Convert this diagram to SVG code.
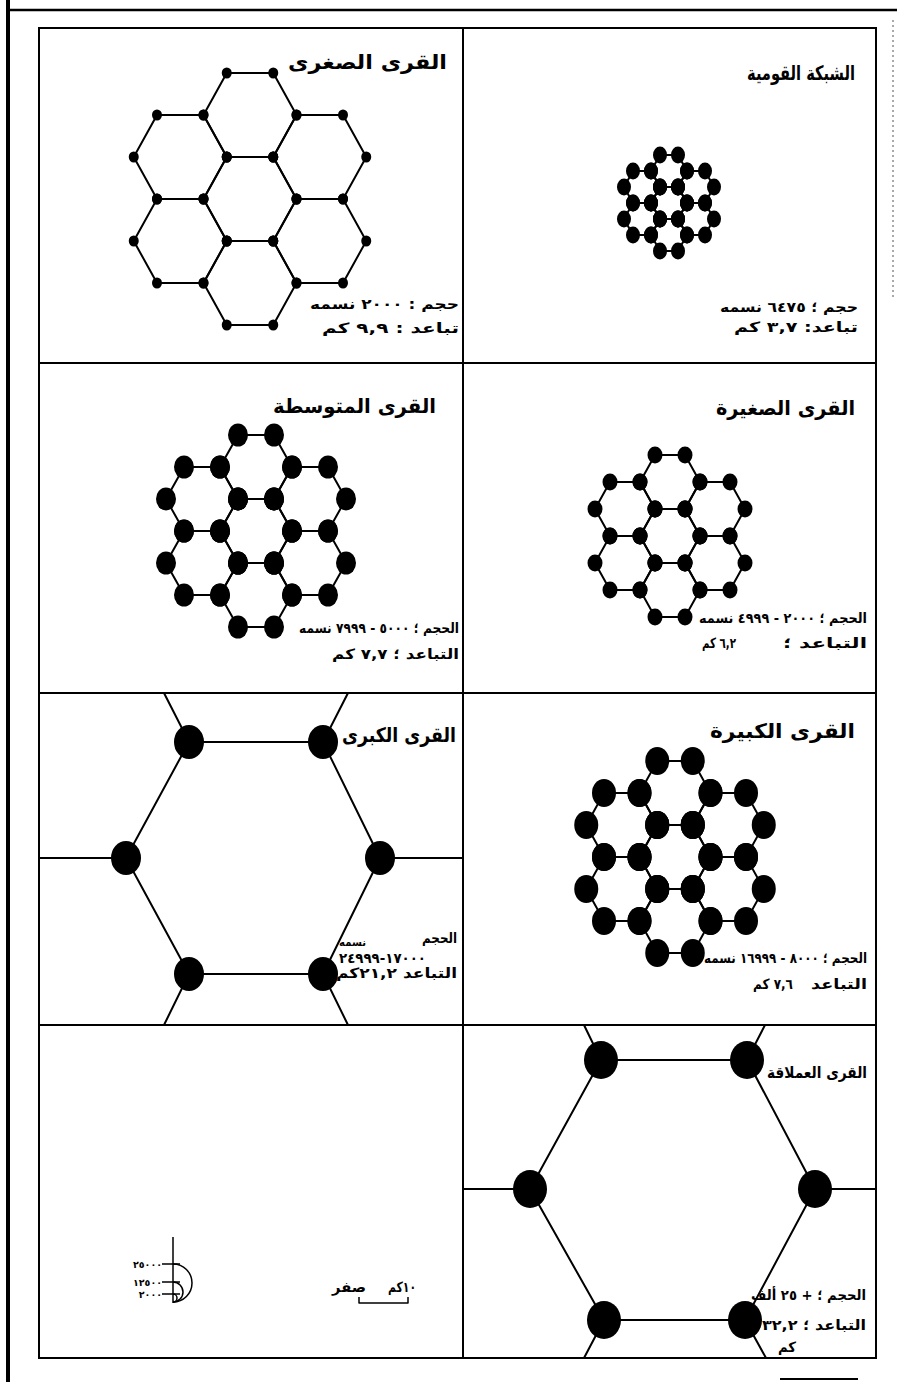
<svg xmlns="http://www.w3.org/2000/svg" width="897" height="1382" viewBox="0 0 897 1382">
<style>
.frame{fill:none;stroke:#000;stroke-width:2}
.net{fill:none;stroke:#000;stroke-width:2;stroke-linejoin:round}
.dot{fill:#000}
text{font-family:"DejaVu Sans",sans-serif;font-weight:bold;fill:#000;text-anchor:end}
.t{font-size:20px}
.i{font-size:14px}
.s{font-size:9.5px}
</style>
<defs>
<marker id="dA" markerUnits="userSpaceOnUse" markerWidth="1" markerHeight="1" refX="0" refY="0" orient="0" overflow="visible"><ellipse cx="0" cy="0" rx="5" ry="5.5"/></marker>
<marker id="dB" markerUnits="userSpaceOnUse" markerWidth="1" markerHeight="1" refX="0" refY="0" orient="0" overflow="visible"><ellipse cx="0" cy="0" rx="7" ry="8.5"/></marker>
<marker id="dC" markerUnits="userSpaceOnUse" markerWidth="1" markerHeight="1" refX="0" refY="0" orient="0" overflow="visible"><ellipse cx="0" cy="0" rx="10" ry="11.5"/></marker>
<marker id="dD" markerUnits="userSpaceOnUse" markerWidth="1" markerHeight="1" refX="0" refY="0" orient="0" overflow="visible"><ellipse cx="0" cy="0" rx="7.5" ry="8.5"/></marker>
<marker id="dE" markerUnits="userSpaceOnUse" markerWidth="1" markerHeight="1" refX="0" refY="0" orient="0" overflow="visible"><ellipse cx="0" cy="0" rx="12" ry="14"/></marker>
</defs>
<rect x="0" y="0" width="897" height="1382" fill="#fff"/>

<g id="frame">
<line x1="8" y1="0" x2="8" y2="1382" stroke="#000" stroke-width="4"/>
<line x1="6" y1="10" x2="897" y2="10" stroke="#000" stroke-width="2.5"/>
<line x1="893" y1="20" x2="893" y2="300" stroke="#555" stroke-width="1" stroke-dasharray="2 3"/>
<line x1="780" y1="1379" x2="858" y2="1379" stroke="#000" stroke-width="2"/>
<rect class="frame" x="39" y="28" width="837" height="1330"/>
<line class="frame" x1="463" y1="28" x2="463" y2="1358"/>
<line class="frame" x1="39" y1="363" x2="876" y2="363"/>
<line class="frame" x1="39" y1="693" x2="876" y2="693"/>
<line class="frame" x1="39" y1="1025" x2="876" y2="1025"/>
</g>

<g id="qura-sughra">
<g class="net" transform="translate(250,199)" style="marker-start:url(#dA);marker-mid:url(#dA)">
<path d="M46.5,0 L23.25,-42 L-23.25,-42 L-46.5,0 L-23.25,42 L23.25,42Z"/>
<path d="M46.5,-84 L23.25,-126 L-23.25,-126 L-46.5,-84 L-23.25,-42 L23.25,-42Z"/>
<path d="M46.5,84 L23.25,42 L-23.25,42 L-46.5,84 L-23.25,126 L23.25,126Z"/>
<path d="M-23.25,-42 L-46.5,-84 L-93,-84 L-116.25,-42 L-93,0 L-46.5,0Z"/>
<path d="M116.25,-42 L93,-84 L46.5,-84 L23.25,-42 L46.5,0 L93,0Z"/>
<path d="M-23.25,42 L-46.5,0 L-93,0 L-116.25,42 L-93,84 L-46.5,84Z"/>
<path d="M116.25,42 L93,0 L46.5,0 L23.25,42 L46.5,84 L93,84Z"/>
</g>
<text class="t" x="447" y="69" textLength="159" lengthAdjust="spacingAndGlyphs">القرى الصغرى</text>
<text class="i" x="459" y="309" textLength="149" lengthAdjust="spacingAndGlyphs">حجم : ٢٠٠٠ نسمه</text>
<text class="i" x="459" y="333" textLength="137" lengthAdjust="spacingAndGlyphs">تباعد : ٩,٩ كم</text>
</g>

<g id="shabaka-qawmiya">
<g class="net" transform="translate(669,203)" style="marker-start:url(#dB);marker-mid:url(#dB)">
<path d="M18,0 L9,-16 L-9,-16 L-18,0 L-9,16 L9,16Z"/>
<path d="M18,-32 L9,-48 L-9,-48 L-18,-32 L-9,-16 L9,-16Z"/>
<path d="M18,32 L9,16 L-9,16 L-18,32 L-9,48 L9,48Z"/>
<path d="M-9,-16 L-18,-32 L-36,-32 L-45,-16 L-36,0 L-18,0Z"/>
<path d="M45,-16 L36,-32 L18,-32 L9,-16 L18,0 L36,0Z"/>
<path d="M-9,16 L-18,0 L-36,0 L-45,16 L-36,32 L-18,32Z"/>
<path d="M45,16 L36,0 L18,0 L9,16 L18,32 L36,32Z"/>
</g>
<text class="t" x="855" y="80" textLength="108" lengthAdjust="spacingAndGlyphs">الشبكة القومية</text>
<text class="i" x="858" y="312" textLength="138" lengthAdjust="spacingAndGlyphs">حجم ؛ ٦٤٧٥ نسمه</text>
<text class="i" x="858" y="332" textLength="124" lengthAdjust="spacingAndGlyphs">تباعد: ٣,٧ كم</text>
</g>

<g id="qura-mutawassita">
<g class="net" transform="translate(256,531)" style="marker-start:url(#dC);marker-mid:url(#dC)">
<path d="M36,0 L18,-32 L-18,-32 L-36,0 L-18,32 L18,32Z"/>
<path d="M36,-64 L18,-96 L-18,-96 L-36,-64 L-18,-32 L18,-32Z"/>
<path d="M36,64 L18,32 L-18,32 L-36,64 L-18,96 L18,96Z"/>
<path d="M-18,-32 L-36,-64 L-72,-64 L-90,-32 L-72,0 L-36,0Z"/>
<path d="M90,-32 L72,-64 L36,-64 L18,-32 L36,0 L72,0Z"/>
<path d="M-18,32 L-36,0 L-72,0 L-90,32 L-72,64 L-36,64Z"/>
<path d="M90,32 L72,0 L36,0 L18,32 L36,64 L72,64Z"/>
</g>
<text class="t" x="436" y="413" textLength="163" lengthAdjust="spacingAndGlyphs">القرى المتوسطة</text>
<text class="i" x="459" y="633" textLength="160" lengthAdjust="spacingAndGlyphs">الحجم ؛ ٥٠٠٠ - ٧٩٩٩ نسمه</text>
<text class="i" x="459" y="659" textLength="127" lengthAdjust="spacingAndGlyphs">التباعد ؛ ٧,٧ كم</text>
</g>

<g id="qura-saghira">
<g class="net" transform="translate(670,536)" style="marker-start:url(#dD);marker-mid:url(#dD)">
<path d="M30,0 L15,-27 L-15,-27 L-30,0 L-15,27 L15,27Z"/>
<path d="M30,-54 L15,-81 L-15,-81 L-30,-54 L-15,-27 L15,-27Z"/>
<path d="M30,54 L15,27 L-15,27 L-30,54 L-15,81 L15,81Z"/>
<path d="M-15,-27 L-30,-54 L-60,-54 L-75,-27 L-60,0 L-30,0Z"/>
<path d="M75,-27 L60,-54 L30,-54 L15,-27 L30,0 L60,0Z"/>
<path d="M-15,27 L-30,0 L-60,0 L-75,27 L-60,54 L-30,54Z"/>
<path d="M75,27 L60,0 L30,0 L15,27 L30,54 L60,54Z"/>
</g>
<text class="t" x="855" y="415" textLength="139" lengthAdjust="spacingAndGlyphs">القرى الصغيرة</text>
<text class="i" x="867" y="623" textLength="168" lengthAdjust="spacingAndGlyphs">الحجم ؛ ٢٠٠٠ - ٤٩٩٩ نسمه</text>
<text class="i" x="867" y="648" textLength="84" lengthAdjust="spacingAndGlyphs">التباعد ؛</text>
<text class="i" x="736" y="648" textLength="34" lengthAdjust="spacingAndGlyphs">٦,٢ كم</text>
</g>

<g id="qura-kubra">
<g class="net">
<path d="M189,742 L323,742 L380,858 L323,974 L189,974 L126,858Z"/>
<path d="M189,742 L164,693 M323,742 L348,693 M126,858 L39,858 M380,858 L463,858 M189,974 L164,1025 M323,974 L348,1025"/>
</g>
<g class="dot">
<ellipse cx="189" cy="742" rx="15" ry="17"/>
<ellipse cx="323" cy="742" rx="15" ry="17"/>
<ellipse cx="126" cy="858" rx="15" ry="17"/>
<ellipse cx="380" cy="858" rx="15" ry="17"/>
<ellipse cx="189" cy="974" rx="15" ry="17"/>
<ellipse cx="323" cy="974" rx="15" ry="17"/>
</g>
<text class="t" x="456" y="742" textLength="114" lengthAdjust="spacingAndGlyphs">القرى الكبرى</text>
<text class="i" x="457" y="943" textLength="35" lengthAdjust="spacingAndGlyphs">الحجم</text>
<text class="i" x="366" y="946" style="font-size:11px" textLength="27" lengthAdjust="spacingAndGlyphs">نسمه</text>
<text class="i" x="426" y="963" textLength="87" lengthAdjust="spacingAndGlyphs">١٧٠٠٠-٢٤٩٩٩</text>
<text class="i" x="457" y="978" textLength="121" lengthAdjust="spacingAndGlyphs">التباعد ٢١,٢كم</text>
</g>

<g id="qura-kabira">
<g class="net" transform="translate(675,857)" style="marker-start:url(#dE);marker-mid:url(#dE)">
<path d="M35.5,0 L17.75,-32 L-17.75,-32 L-35.5,0 L-17.75,32 L17.75,32Z"/>
<path d="M35.5,-64 L17.75,-96 L-17.75,-96 L-35.5,-64 L-17.75,-32 L17.75,-32Z"/>
<path d="M35.5,64 L17.75,32 L-17.75,32 L-35.5,64 L-17.75,96 L17.75,96Z"/>
<path d="M-17.75,-32 L-35.5,-64 L-71,-64 L-88.75,-32 L-71,0 L-35.5,0Z"/>
<path d="M88.75,-32 L71,-64 L35.5,-64 L17.75,-32 L35.5,0 L71,0Z"/>
<path d="M-17.75,32 L-35.5,0 L-71,0 L-88.75,32 L-71,64 L-35.5,64Z"/>
<path d="M88.75,32 L71,0 L35.5,0 L17.75,32 L35.5,64 L71,64Z"/>
</g>
<text class="t" x="855" y="738" textLength="145" lengthAdjust="spacingAndGlyphs">القرى الكبيرة</text>
<text class="i" x="867" y="963" textLength="163" lengthAdjust="spacingAndGlyphs">الحجم ؛ ٨٠٠٠ - ١٦٩٩٩ نسمه</text>
<text class="i" x="867" y="989" textLength="56" lengthAdjust="spacingAndGlyphs">التباعد</text>
<text class="i" x="793" y="989" textLength="40" lengthAdjust="spacingAndGlyphs">٧,٦ كم</text>
</g>

<g id="legend">
<g class="net" style="stroke-width:1.5">
<path d="M173,1237 V1303"/>
<path d="M162,1264 H180 M162,1282 H180 M162,1294 H180"/>
<path d="M173,1264 A19,19 0 0 1 173,1302"/>
<path d="M173,1282 A10,10 0 0 1 173,1302"/>
<path d="M173,1294 A4,4 0 0 1 173,1302"/>
<path d="M359,1297 V1303 H408 V1297"/>
</g>
<text class="s" x="162" y="1268">٢٥٠٠٠</text>
<text class="s" x="162" y="1286">١٢٥٠٠</text>
<text class="s" x="162" y="1298">٢٠٠٠</text>
<text class="i" x="366" y="1292" textLength="34" lengthAdjust="spacingAndGlyphs">صفر</text>
<text class="i" x="416" y="1292" textLength="28" lengthAdjust="spacingAndGlyphs">١٠كم</text>
</g>

<g id="qura-imlaqa">
<g class="net">
<path d="M601,1060 L747,1060 L815,1189 L745,1320 L604,1320 L530,1189Z"/>
<path d="M601,1060 L584,1025 M747,1060 L765,1025 M530,1189 L463,1189 M815,1189 L876,1189 M604,1320 L584,1358 M745,1320 L766,1358"/>
</g>
<g class="dot">
<ellipse cx="601" cy="1060" rx="17" ry="19"/>
<ellipse cx="747" cy="1060" rx="17" ry="19"/>
<ellipse cx="530" cy="1189" rx="17" ry="19"/>
<ellipse cx="815" cy="1189" rx="17" ry="19"/>
<ellipse cx="604" cy="1320" rx="17" ry="19"/>
<ellipse cx="745" cy="1320" rx="17" ry="19"/>
</g>
<text class="t" x="867" y="1078" style="font-size:16px" textLength="100" lengthAdjust="spacingAndGlyphs">القرى العملاقة</text>
<text class="i" x="866" y="1300" textLength="115" lengthAdjust="spacingAndGlyphs">الحجم ؛ + ٢٥ ألف</text>
<text class="i" x="866" y="1330" textLength="104" lengthAdjust="spacingAndGlyphs">التباعد ؛ ٣٢,٢</text>
<text class="i" x="796" y="1352" textLength="18" lengthAdjust="spacingAndGlyphs">كم</text>
</g>
</svg>
